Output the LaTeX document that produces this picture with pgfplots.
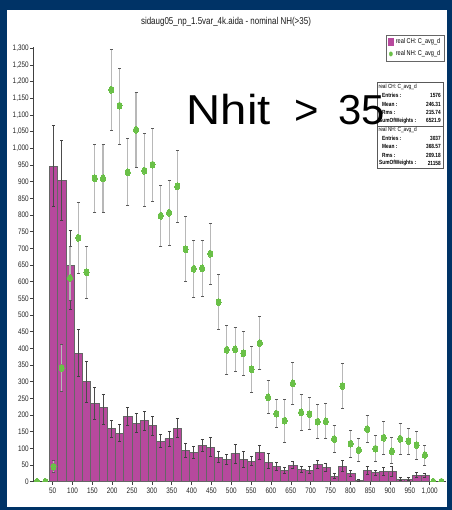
\documentclass[border=0pt]{standalone}
\usepackage{fontspec}
\setmainfont{Liberation Sans}
\newfontfamily\narrow[FakeStretch=0.8]{Liberation Sans}
\usepackage{pgfplots}
\usepackage{pgfplotstable}
\pgfplotsset{compat=1.18}

\definecolor{frameblue}{RGB}{0,51,102}
\definecolor{chfill}{RGB}{183,73,157}
\definecolor{nhgreen}{RGB}{106,192,72}

% common frame of both axis layers
\pgfplotsset{histframe/.style={
  at={(32.86bp,28.3bp)}, anchor=south west,
  scale only axis, width=412.7bp, height=435bp,
  xmin=0, xmax=1040, ymin=0, ymax=1305,
  clip marker paths=true}}

% real CH: bin centre, content, upper and lower error
\pgfplotstableread{
x y ep em
52.0 947 121 121
72.8 904 119 119
93.6 648 105 131
114.4 385 72 70
135.2 300 62 63
156.0 236 46 48
176.8 223 39 50
197.6 160 25 27
218.4 145 26 23
239.2 197 26 27
260.0 176 29 28
280.8 183 27 28
301.6 168 27 30
322.4 122 21 19
343.2 129 21 24
364.0 160 29 27
384.8 94 20 22
405.6 88 19 18
426.4 110 18 20
447.2 104 28 27
468.0 74 16 16
488.8 68 15 15
509.6 85 28 30
530.4 67 23 25
551.2 62 15 14
572.0 88 21 21
592.8 59 26 20
613.6 45 14 12
634.4 35 9 9
655.2 49 12 10
676.0 38 9 9
696.8 35 10 10
717.6 51 13 12
738.4 44 12 12
759.2 17 8 8
780.0 46 17 15
800.8 24 9 9
821.6 4 2 2
842.4 34 13 12
863.2 27 8 8
884.0 30 12 12
904.8 30 16 15
925.6 8 5 5
946.4 8 5 5
967.2 19 8 7
988.0 18 6 6
}\chdata

% real NH: bin centre, content, upper and lower error
\pgfplotstableread{
x y ep em
52.0 45 18 17
72.8 341 71 70
93.6 611 94 66
114.4 732 107 107
135.2 628 77 78
156.0 910 101 103
176.8 910 101 103
197.6 1176 121 121
218.4 1128 112 115
239.2 928 101 98
260.0 1056 113 114
280.8 933 111 108
301.6 951 108 110
322.4 798 90 92
343.2 807 98 98
364.0 886 108 109
384.8 697 98 96
405.6 639 86 87
426.4 640 83 84
447.2 684 91 93
468.0 539 83 82
488.8 396 74 74
509.6 397 67 66
530.4 385 66 67
551.2 337 70 68
572.0 416 80 79
592.8 253 51 49
613.6 204 42 41
634.4 183 64 64
655.2 295 63 63
676.0 208 53 54
696.8 203 49 46
717.6 180 51 51
738.4 181 53 50
759.2 128 40 40
780.0 287 67 66
800.8 114 40 40
821.6 95 35 35
842.4 158 41 40
863.2 99 39 39
884.0 132 49 50
904.8 91 41 36
925.6 129 47 46
946.4 122 39 39
967.2 110 41 42
988.0 80 30 30
}\nhdata

% empty NH bins at both ends
\pgfplotstableread{
x y
10.4 0
31.2 0
1008.8 0
1029.6 0
}\nhempty

\begin{document}
\begin{tikzpicture}
\useasboundingbox (0bp,0bp) rectangle (452bp,510bp);
\fill[frameblue] (0bp,0bp) rectangle (452bp,510bp);
\fill[white] (7bp,3bp) rectangle (447bp,500bp);

\node[font=\narrow\fontsize{10}{12}\selectfont, text=black!90] at (226bp,488bp)
  {sidaug05\_np\_1.5var\_4k.aida - nominal NH(>35)};

\begin{axis}[
  histframe,
  axis x line=bottom, axis y line=left,
  axis line style={-, black!75, line width=0.6bp},
  xtick={50,100,...,1000}, ytick={0,50,...,1300},
  tick align=outside, major tick length=3bp,
  tick style={black!75, line width=0.6bp},
  tick label style={font=\narrow\fontsize{8}{9}\selectfont, text=black!85},
  yticklabel style={inner sep=1bp},
  xticklabel style={inner sep=1bp, yshift=-2.5bp},
  /pgf/number format/assume math mode=true,
  /pgf/number format/1000 sep={,},
  legend cell align=left,
  legend style={at={(0.996,1.027)}, anchor=north east,
    font=\narrow\fontsize{7}{8}\selectfont, draw=black!60,
    inner sep=1.5bp, row sep=1.5bp,
    /tikz/every even column/.append style={column sep=1bp}},
]
% real CH histogram with its errors
\addplot[ybar, bar width=20.8, bar shift=0pt, fill=chfill, draw=black!60, line width=0.5bp,
  legend image code/.code={\fill[chfill] (0bp,-3.5bp) rectangle (5.5bp,3.5bp);},
  error bars/.cd, y dir=both, y explicit,
  error bar style={draw=black!70, line width=0.7bp},
  error mark options={rotate=90, mark size=1.5bp, draw=black!75, line width=0.6bp}]
  table[x=x, y=y, y error plus=ep, y error minus=em] {\chdata};
\addlegendentry{real CH: C\_avg\_d}

% real NH errors (the points follow in the overlay axis)
\addplot[only marks, mark=none,
  legend image code/.code={\fill[nhgreen] (2.75bp,0bp) ellipse (1.6bp and 2.2bp);},
  error bars/.cd, y dir=both, y explicit,
  error bar style={draw=black!28, line width=1.1bp},
  error mark options={rotate=90, mark size=1.5bp, draw=black!65, line width=0.6bp}]
  table[x=x, y=y, y error plus=ep, y error minus=em] {\nhdata};
\addlegendentry{real NH: C\_avg\_d}
\end{axis}

% real NH points, drawn over their error bars
\begin{axis}[histframe, hide axis]
\addplot[only marks, color=nhgreen, mark=*, mark size=3.5bp,
  mark options={xscale=0.72, fill=nhgreen, draw=nhgreen, line width=0pt}]
  table[x=x, y=y] {\nhdata};
\addplot[only marks, color=nhgreen, mark=*, mark size=3.5bp,
  mark options={xscale=0.72, fill=nhgreen, draw=nhgreen, line width=0pt}]
  table[x=x, y=y] {\nhempty};
\end{axis}

% statistics boxes
\draw[black!65, line width=0.6bp] (377bp,342bp) rectangle (443bp,428bp);
\draw[black!65, line width=0.6bp] (377bp,384bp) -- (443bp,384bp);
\begin{scope}[every node/.style={inner sep=0pt, font=\narrow\bfseries\fontsize{6}{6}\selectfont}]
\node[anchor=west, font=\narrow\fontsize{6}{6}\selectfont] at (378.5bp,423.3bp) {real CH: C\_avg\_d};
\node[anchor=west] at (382bp,414.3bp) {Entries :};
\node[anchor=east] at (441bp,414.3bp) {1576};
\node[anchor=west] at (382bp,406bp) {Mean :};
\node[anchor=east] at (441bp,406bp) {246.31};
\node[anchor=west] at (382bp,397.7bp) {Rms :};
\node[anchor=east] at (441bp,397.7bp) {215.74};
\node[anchor=west] at (379bp,389.3bp) {SumOfWeights :};
\node[anchor=east] at (441bp,389.3bp) {6521.9};
\node[anchor=west, font=\narrow\fontsize{6}{6}\selectfont] at (378.5bp,380bp) {real NH: C\_avg\_d};
\node[anchor=west] at (382bp,371.7bp) {Entries :};
\node[anchor=east] at (441bp,371.7bp) {3037};
\node[anchor=west] at (382bp,363.3bp) {Mean :};
\node[anchor=east] at (441bp,363.3bp) {368.57};
\node[anchor=west] at (382bp,355bp) {Rms :};
\node[anchor=east] at (441bp,355bp) {209.18};
\node[anchor=west] at (379bp,346.7bp) {SumOfWeights :};
\node[anchor=east] at (441bp,346.7bp) {21158};
\end{scope}

% cut annotation
\begin{scope}[every node/.style={inner sep=0pt, font=\fontsize{42}{42}\selectfont}]
\node[anchor=base west] at (186.4bp,385bp) {\scalebox{1.13}[1]{Nhit}};
\node[anchor=base] at (306.5bp,385bp) {>};
\node[anchor=base] at (362bp,385bp) {35};
\end{scope}
\end{tikzpicture}
\end{document}
